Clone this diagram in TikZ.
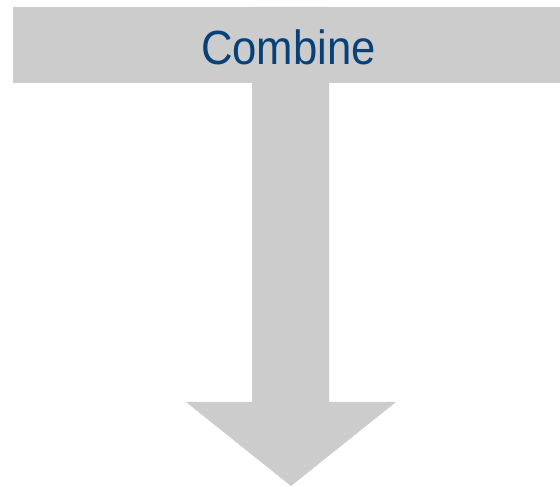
\documentclass[tikz,border=0pt]{standalone}
\usepackage{fontspec}
\setmainfont{Liberation Sans}
\definecolor{bargray}{RGB}{204,204,204}
\definecolor{textblue}{RGB}{8,64,120}
\begin{document}
\begin{tikzpicture}[x=1pt,y=1pt,
  bar/.style={fill=bargray,draw=none,inner sep=0pt,minimum width=547pt,minimum height=76pt},
  barlabel/.style={text=textblue,font=\fontsize{48}{56}\selectfont,inner sep=0pt}]
\useasboundingbox (0,0) rectangle (560,487);
\fill[bargray] (252,480) -- (252,85) -- (186,85) -- (291,1) -- (396,85) -- (329,85) -- (329,480) -- cycle;
\node[bar] (combine) at (286.5,442) {};
\node[barlabel] (label) at (288.5,440) {\scalebox{0.91}[1]{Combine}};
\end{tikzpicture}
\end{document}
